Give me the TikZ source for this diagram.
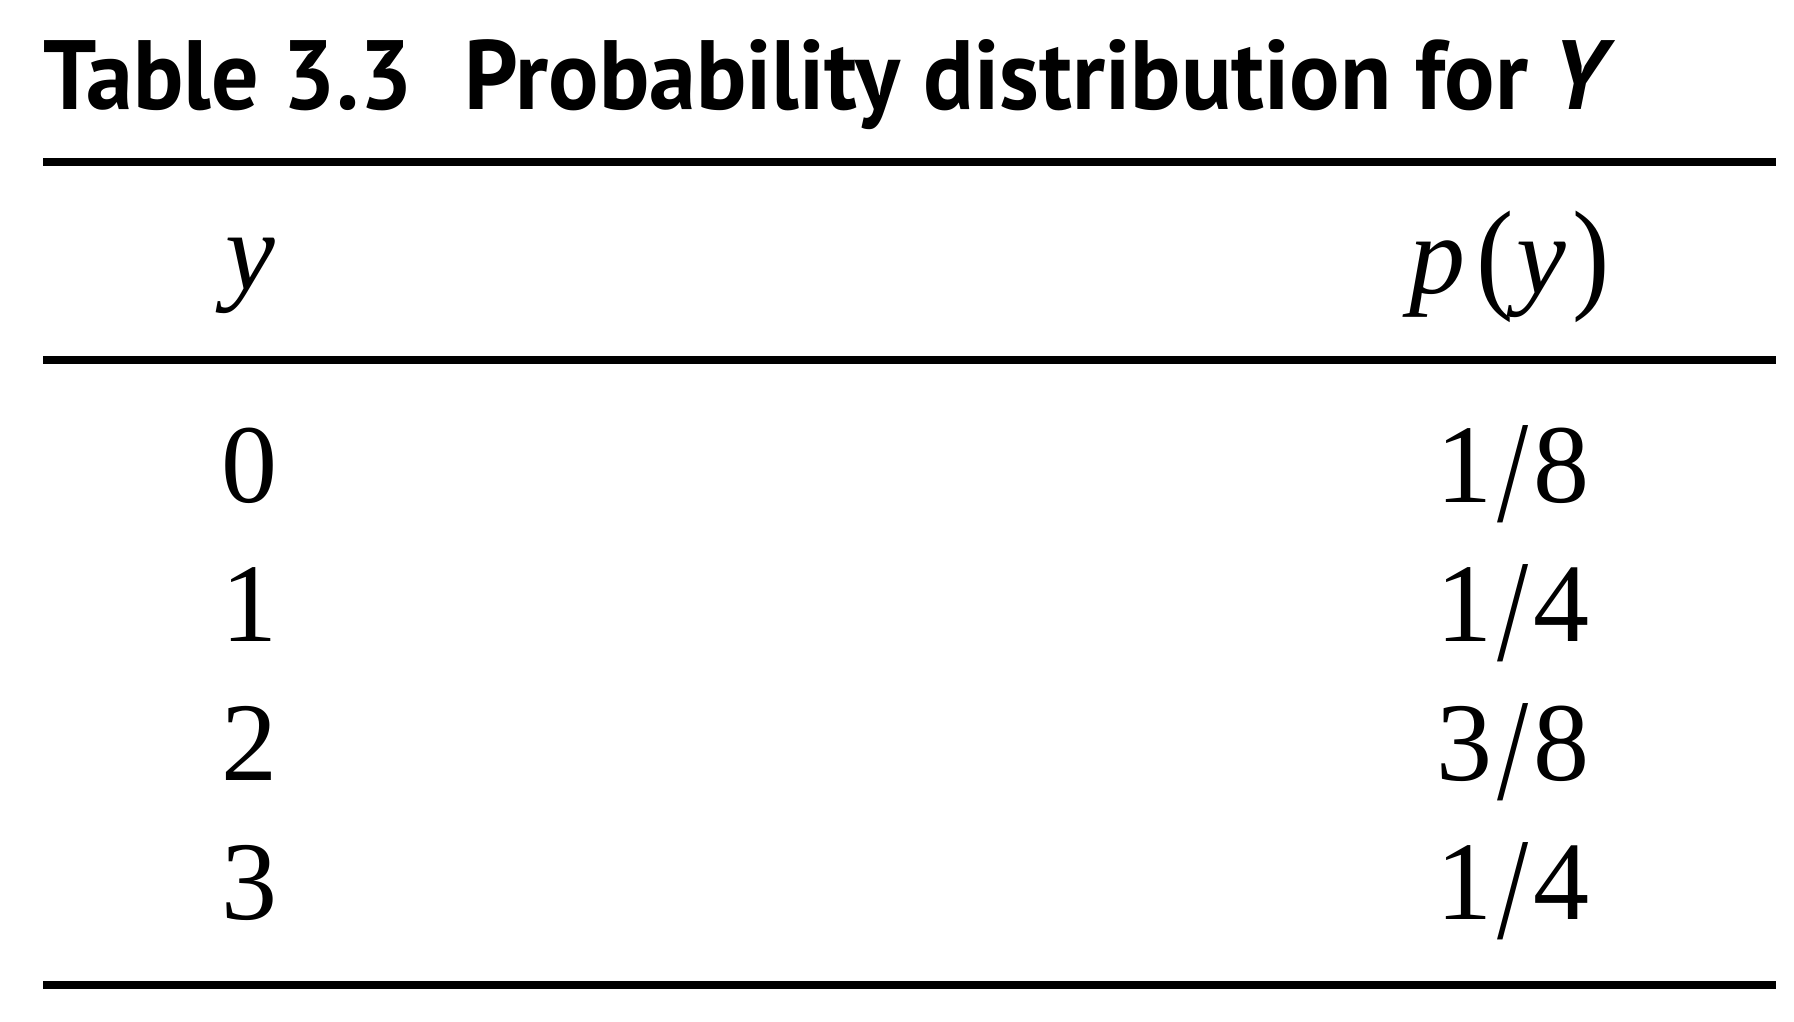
\documentclass[tikz,border=0pt]{standalone}
\usepackage{fontspec}
\usepackage{graphicx}
\setmainfont{Liberation Serif}
\newfontfamily\titlefont{PT Sans}
\newcommand{\myslash}{\kern0.04em\raisebox{-0.17em}{\scalebox{1}[1.3]{/}}\kern0.04em}
\newcommand{\myfrac}[2]{#1\myslash#2}
\begin{document}
\begin{tikzpicture}[x=1pt,y=-1pt,
  tablerule/.style={line width=7.5pt, line cap=butt},
  cell/.style={anchor=base, inner sep=0pt, font=\fontsize{112}{120}\selectfont},
  titlestyle/.style={anchor=base west, inner sep=0pt}]
\useasboundingbox (0,0) rectangle (1794,1022);
\node[titlestyle] (title) at (43,110)
  {\resizebox{1572pt}{70pt}{\titlefont\bfseries Table 3.3\hspace{0.3em} Probability distribution for \textit{Y}}};
\coordinate (r1l) at (43,162);  \coordinate (r1r) at (1776,162);
\coordinate (r2l) at (43,360);  \coordinate (r2r) at (1776,360);
\coordinate (r3l) at (43,985);  \coordinate (r3r) at (1776,985);
\draw[tablerule] (r1l) -- (r1r);
\draw[tablerule] (r2l) -- (r2r);
\draw[tablerule] (r3l) -- (r3r);
\node[cell] (hy) at (250,289) {\textit{y}};
\node[cell] (hp) at (1510,293) {\textit{p}\kern0.1em\raisebox{-0.03em}{\scalebox{1}[1.1]{(}}\kern0.02em\textit{y}\kern0.06em\raisebox{-0.03em}{\scalebox{1}[1.1]{)}}};
\node[cell] (y0) at (249,502) {0};
\node[cell] (y1) at (249,641) {1};
\node[cell] (y2) at (249,780) {2};
\node[cell] (y3) at (249,919) {3};
\node[cell] (p0) at (1513,502) {\myfrac{1}{8}};
\node[cell] (p1) at (1513,641) {\myfrac{1}{4}};
\node[cell] (p2) at (1513,780) {\myfrac{3}{8}};
\node[cell] (p3) at (1513,919) {\myfrac{1}{4}};
\end{tikzpicture}
\end{document}
